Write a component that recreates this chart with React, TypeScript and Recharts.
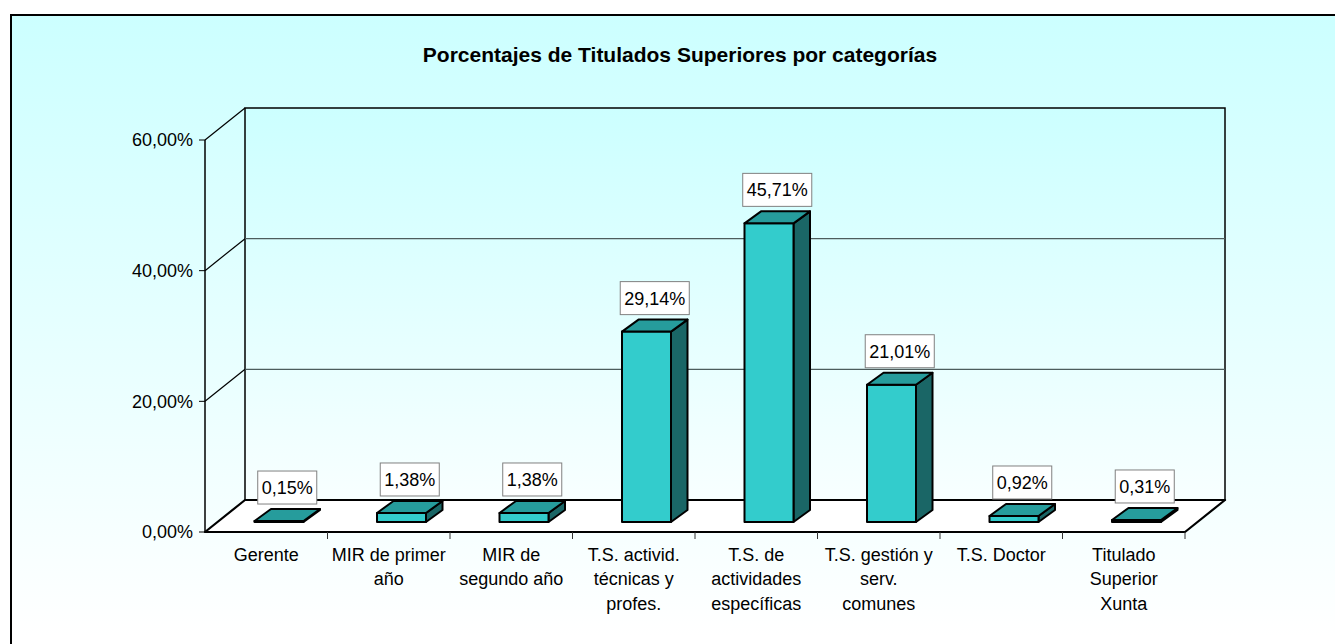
import { Bar, BarChart, LabelList, XAxis, YAxis, usePlotArea } from "recharts"

const categories = [
	"Gerente",
	"MIR de primer\naño",
	"MIR de\nsegundo año",
	"T.S. activid.\ntécnicas y\nprofes.",
	"T.S. de\nactividades\nespecíficas",
	"T.S. gestión y\nserv.\ncomunes",
	"T.S. Doctor",
	"Titulado\nSuperior\nXunta",
]
const shares = [0.0015, 0.0138, 0.0138, 0.2914, 0.4571, 0.2101, 0.0092, 0.0031]
const yTicks = [0, 0.2, 0.4, 0.6]

const data = categories.map((name, i) => ({ name, value: shares[i] }))

const FONT = "Arial, 'Liberation Sans', sans-serif"
const FONT_SIZE = 18
// Floor depth of the pseudo-3D box, and where the columns sit inside it.
const DEPTH_X = 40
const DEPTH_Y = 32
const SHIFT_X = 12.5
const SHIFT_Y = 10
// Depth of a single column.
const COL_DX = 16.5
const COL_DY = 12

const pct = (v: number) => `${(v * 100).toFixed(2).replace(".", ",")}%`

// rough Arial advance widths, good enough to size the label boxes
function textWidth(s: string, size: number) {
	let w = 0
	for (const ch of s) {
		if (ch === ",") w += 0.278
		else if (ch === "%") w += 0.889
		else w += 0.556
	}
	return w * size
}

function Walls() {
	const area = usePlotArea()
	if (!area) return null
	const L = area.x
	const R = area.x + area.width
	const T = area.y
	const B = area.y + area.height
	const yMax = yTicks[yTicks.length - 1]
	const band = area.width / categories.length
	const yAt = (v: number) => B - (v / yMax) * area.height
	return (
		<g>
			<defs>
				<linearGradient id="wall" x1="0" y1="0" x2="0" y2="1">
					<stop offset="0" stopColor="#ccffff" />
					<stop offset="1" stopColor="#f8ffff" />
				</linearGradient>
			</defs>
			<rect
				x={L + DEPTH_X}
				y={T - DEPTH_Y}
				width={area.width}
				height={area.height}
				fill="url(#wall)"
				stroke="#000"
				strokeWidth={1.5}
			/>
			{yTicks.slice(1, -1).map((v) => (
				<line
					key={`g-${v}`}
					x1={L + DEPTH_X}
					x2={R + DEPTH_X}
					y1={yAt(v) - DEPTH_Y}
					y2={yAt(v) - DEPTH_Y}
					stroke="#4d5c5c"
					strokeWidth={1.2}
				/>
			))}
			{yTicks.slice(1).map((v) => (
				<line
					key={`d-${v}`}
					x1={L}
					y1={yAt(v)}
					x2={L + DEPTH_X}
					y2={yAt(v) - DEPTH_Y}
					stroke="#000"
					strokeWidth={1.2}
				/>
			))}
			<polygon
				points={`${L},${B} ${R},${B} ${R + DEPTH_X},${B - DEPTH_Y} ${L + DEPTH_X},${B - DEPTH_Y}`}
				fill="#fff"
				stroke="#000"
				strokeWidth={2.2}
				strokeLinejoin="round"
			/>
			{categories.map((_, i) => (
				<line key={`t-${i}`} x1={L + (i + 1) * band} x2={L + (i + 1) * band} y1={B} y2={B + 7} stroke="#333" strokeWidth={1} />
			))}
			<text x={680} y={62} textAnchor="middle" fontFamily={FONT} fontWeight="bold" fontSize={21} fill="#000">
				Porcentajes de Titulados Superiores por categorías
			</text>
		</g>
	)
}

function Column(props: any) {
	const { x, y, width, height } = props
	if (x == null || y == null) return <g />
	const fx = x + SHIFT_X
	const fy = y - SHIFT_Y
	const h = Math.max(height, 0)
	const w = width
	return (
		<g stroke="#000" strokeWidth={2} strokeLinejoin="round">
			<polygon
				points={`${fx + w},${fy} ${fx + w + COL_DX},${fy - COL_DY} ${fx + w + COL_DX},${fy + h - COL_DY} ${fx + w},${fy + h}`}
				fill="#1a6666"
			/>
			<rect x={fx} y={fy} width={w} height={h} fill="#33cccc" />
			<polygon
				points={`${fx},${fy} ${fx + COL_DX},${fy - COL_DY} ${fx + w + COL_DX},${fy - COL_DY} ${fx + w},${fy}`}
				fill="#269c9c"
			/>
		</g>
	)
}

function ValueLabel(props: any) {
	const { x, y, width, value } = props
	if (x == null || y == null) return null
	const text = pct(Number(value))
	const bw = textWidth(text, FONT_SIZE) + 8
	const bh = 33
	const cx = x + width / 2 + SHIFT_X + COL_DX / 2
	const bottom = y - SHIFT_Y - COL_DY - 5
	return (
		<g>
			<rect x={cx - bw / 2} y={bottom - bh} width={bw} height={bh} fill="#fff" stroke="#808080" strokeWidth={1} />
			<text x={cx} y={bottom - bh / 2 + 6.5} textAnchor="middle" fontFamily={FONT} fontSize={FONT_SIZE} fill="#000">
				{text}
			</text>
		</g>
	)
}

function CategoryTick(props: any) {
	const { x, y, payload } = props
	const lines = String(payload.value).split("\n")
	return (
		<text x={x} y={y} textAnchor="middle" fontFamily={FONT} fontSize={FONT_SIZE} fill="#000">
			{lines.map((ln, i) => (
				<tspan key={i} x={x} dy={i === 0 ? 29 : 24.3}>
					{ln}
				</tspan>
			))}
		</text>
	)
}

export default function App() {
	return (
		<div style={{ position: "absolute", left: 0, top: 0, width: 1335, height: 644, overflow: "hidden", background: "#fff" }}>
			<div
				style={{
					position: "absolute",
					left: 10,
					top: 14,
					width: 1400,
					height: 700,
					border: "2px solid #000",
					boxSizing: "border-box",
					background: "linear-gradient(to bottom, #ccffff 0px, #ffffff 620px)",
				}}
			/>
			<div style={{ position: "absolute", left: 0, top: 0 }}>
				<BarChart width={1335} height={644} data={data} margin={{ top: 140, right: 150, bottom: 12, left: 0 }}>
					<Walls />
					<XAxis
						dataKey="name"
						axisLine={false}
						tickLine={false}
						tickSize={0}
						tickMargin={0}
						height={100}
						interval={0}
						tick={<CategoryTick />}
					/>
					<YAxis
						width={205}
						domain={[0, 0.6]}
						ticks={yTicks}
						tickFormatter={pct}
						axisLine={{ stroke: "#000", strokeWidth: 1.5 }}
						tickLine={{ stroke: "#000" }}
						tickSize={6}
						tickMargin={6}
						tick={{ fill: "#000", fontSize: FONT_SIZE, fontFamily: FONT }}
					/>
					<Bar dataKey="value" barSize={49} shape={<Column />} isAnimationActive={false}>
						<LabelList dataKey="value" content={<ValueLabel />} />
					</Bar>
				</BarChart>
			</div>
		</div>
	)
}
